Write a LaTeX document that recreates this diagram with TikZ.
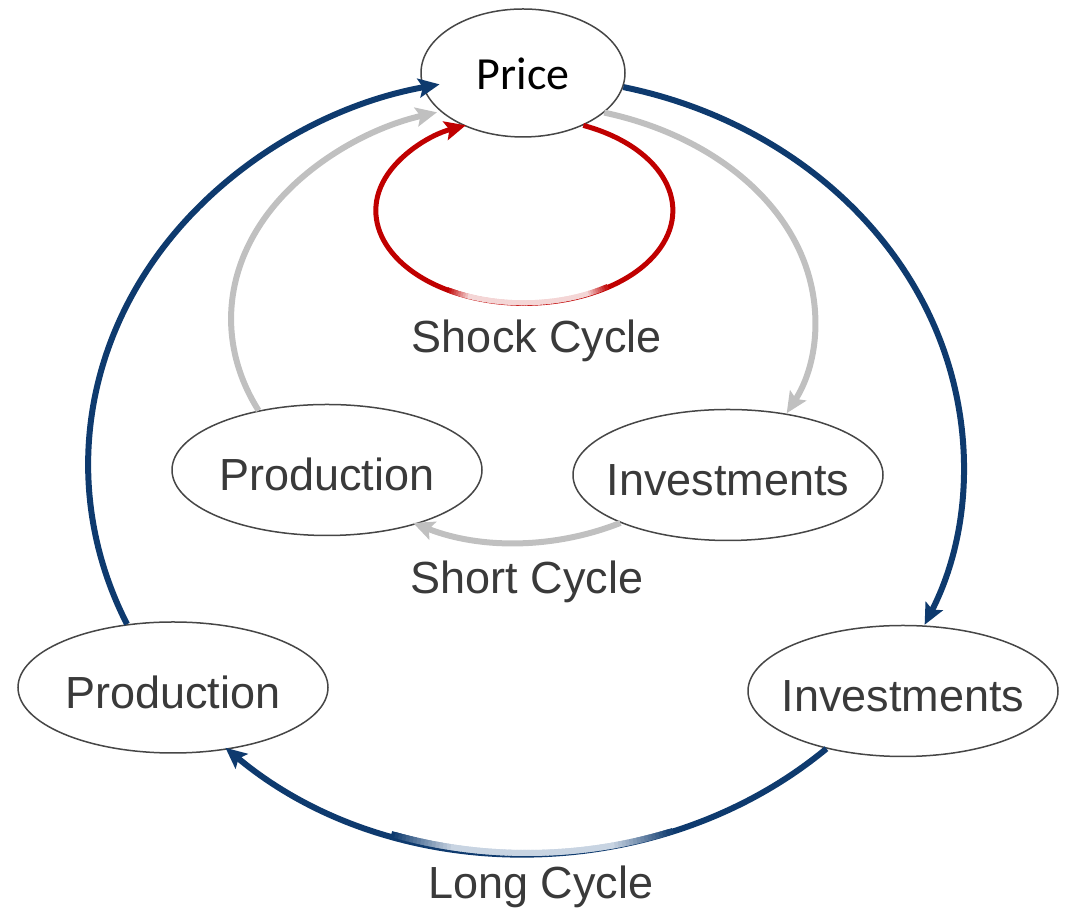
\documentclass[tikz,border=0pt]{standalone}
\usepackage{fontspec}
\setmainfont{Liberation Sans}
\newfontfamily\calibrifont{Carlito}
\usetikzlibrary{arrows.meta,calc,shapes.geometric}

\definecolor{cyclenavy}{RGB}{14,58,110}
\definecolor{cyclegrey}{RGB}{192,192,192}
\definecolor{cyclered}{RGB}{192,0,0}
\definecolor{navyfade}{RGB}{200,212,226}
\definecolor{redfade}{RGB}{244,214,214}
\definecolor{labelgrey}{RGB}{58,58,58}
\definecolor{rimgrey}{RGB}{70,70,70}

\tikzset{
  bubble/.style={ellipse, draw=rimgrey, line width=1.5pt, fill=white,
    minimum width=310pt, minimum height=131pt, inner xsep=-14pt, inner ysep=0pt,
    text=labelgrey, font=\fontsize{45}{54}\selectfont,
    text height=46pt, text depth=4pt},
  cyclelabel/.style={anchor=base, inner sep=0pt, text=labelgrey,
    font=\fontsize{45}{54}\selectfont},
  cycletip/.style={-{Stealth[length=21pt,width=19pt,inset=4pt]}},
  longarc/.style={cycletip, draw=cyclenavy, line width=6pt},
  shortarc/.style={cycletip, draw=cyclegrey, line width=6pt},
  shockarc/.style={cycletip, draw=cyclered, line width=5pt},
}

\begin{document}
\begin{tikzpicture}[x=1pt,y=1pt]
\useasboundingbox (0,0) rectangle (1071,909);

% nodes
\node[bubble, minimum width=204pt, minimum height=128pt, text=black,
      font=\calibrifont\fontsize{46}{55}\selectfont,
      text height=37pt, text depth=4pt] (price) at (523,836) {Price};
\node[bubble] (prodI) at (327,439) {Production};
\node[bubble] (invI)  at (728,434) {Investments};
\node[bubble] (prodO) at (173,221.5) {Production};
\node[bubble] (invO)  at (903,218) {Investments};

% cycle names
\node[cyclelabel] (shocklbl) at (537,556) {Shock Cycle};
\node[cyclelabel] (shortlbl) at (527,315) {Short Cycle};
\node[cyclelabel] (longlbl)  at (541,10)  {Long Cycle};

% centres of the cycle curves
\coordinate (longctr)  at (527,444);
\coordinate (shockctr) at (523.5,699);

% long cycle
\draw[longarc] (prodO.126) arc[start angle=204.3, end angle=101.5, x radius=439pt, y radius=388pt];
\draw[longarc] (price.-8) arc[start angle=77, end angle=-24.3, x radius=439pt, y radius=388pt];
\draw[longarc] (invO.217) arc[start angle=-46.9, end angle=-133.3, x radius=439pt, y radius=388pt];
% pale stretch under the label, blended in at both ends
\foreach \a in {-108,-107.5,...,-71.5} {
  \pgfmathtruncatemacro\mix{max(0,min(100,min((\a+108)/8*100, (-71-\a)/8*100)))}
  \draw[navyfade!\mix!cyclenavy, line width=6pt]
    ($(longctr)+(\a:439pt and 388pt)$) arc[start angle=\a, end angle=\a+0.9, x radius=439pt, y radius=388pt];
}

% short cycle
\draw[shortarc] (prodI.139) arc[start angle=205.1, end angle=107, x radius=291pt, y radius=216pt];
\draw[shortarc] (price.-26) arc[start angle=74, end angle=-25.5, x radius=291pt, y radius=216pt];
\draw[shortarc] (invI.204.6) arc[start angle=-68.4, end angle=-111.6, radius=281.6pt];

% shock cycle
\draw[shockarc] (price.-41) arc[start angle=66.6, end angle=-246.8, x radius=148.5pt, y radius=92.8pt];
% pale stretch above the label, blended in at both ends
\foreach \a in {-121,-120,...,-57} {
  \pgfmathtruncatemacro\mix{max(0,min(100,min((\a+121)/9*100, (-56-\a)/9*100)))}
  \draw[redfade!\mix!cyclered, line width=5pt]
    ($(shockctr)+(\a:148.5pt and 92.8pt)$) arc[start angle=\a, end angle=\a+1.6, x radius=148.5pt, y radius=92.8pt];
}
\end{tikzpicture}
\end{document}
